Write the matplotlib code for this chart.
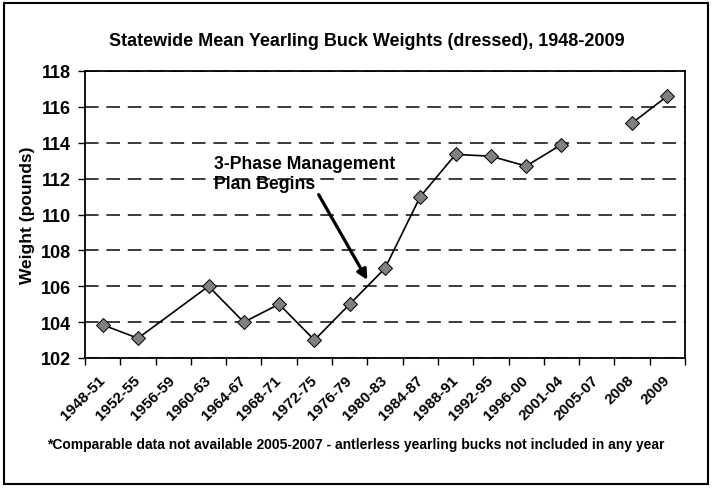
import matplotlib
matplotlib.use("Agg")
import matplotlib.pyplot as plt
from matplotlib.patches import Rectangle
import numpy as np

# category labels along the x axis
periods = ["1948-51", "1952-55", "1956-59", "1960-63", "1964-67", "1968-71",
           "1972-75", "1976-79", "1980-83", "1984-87", "1988-91", "1992-95",
           "1996-00", "2001-04", "2005-07", "2008", "2009"]
# mean dressed weight (lbs); None = no point plotted
weights = [103.85, 103.1, None, 106.0, 104.0, 105.0, 103.0, 105.0, 107.0,
           111.0, 113.35, 113.25, 112.7, 113.9, None, 115.1, 116.6]
# the 2005-07 gap is not bridged by the line
break_before = "2008"

plt.rcParams["font.family"] = ["Liberation Sans", "DejaVu Sans"]
plt.rcParams["font.weight"] = "bold"

W, H = 712, 489
fig = plt.figure(figsize=(W / 100, H / 100), dpi=100)
ax = fig.add_axes([85 / W, 1 - 359 / H, 600 / W, 287 / H])

x = np.arange(len(periods))
split = periods.index(break_before)
for lo, hi in [(0, split), (split, len(periods))]:
    xs = [i for i in range(lo, hi) if weights[i] is not None]
    ys = [weights[i] for i in xs]
    ax.plot(xs, ys, color="black", lw=1.2, marker="D", ms=6.8,
            mfc="#808080", mec="black", mew=0.7, zorder=3)

ax.set_xlim(-0.5, len(periods) - 0.5)
ax.set_ylim(102, 118)
ax.set_yticks(np.arange(102, 119, 2))
ax.yaxis.grid(True, color="#3c3c3c", lw=1.4, dashes=(7, 4))
ax.set_axisbelow(True)

ax.set_xticks(x)
ax.set_xticks(np.arange(-0.5, len(periods), 1), minor=True)
ax.set_xticklabels(periods, rotation=45, ha="right", va="center",
                   rotation_mode="anchor", fontsize=11, fontweight="bold")
ax.tick_params(axis="x", which="major", length=0, pad=14)
ax.tick_params(axis="x", which="minor", length=5, width=1, direction="out")
ax.tick_params(axis="y", length=5, width=1, direction="out", pad=5,
               labelsize=13)
for s in ax.spines.values():
    s.set_linewidth(1.3)

fig.text(28 / W, 1 - 215 / H, "Weight (pounds)", rotation=90, ha="center",
         va="center", fontsize=12.5, fontweight="bold")
fig.text(367 / W, 1 - 41 / H,
         "Statewide Mean Yearling Buck Weights (dressed), 1948-2009",
         ha="center", va="center", fontsize=13, fontweight="bold")
fig.text(356 / W, 1 - 445 / H,
         "*Comparable data not available 2005-2007 - antlerless yearling bucks "
         "not included in any year",
         ha="center", va="center", fontsize=10, fontweight="bold")

ax.annotate("3-Phase Management\nPlan Begins", xy=(7.5, 106.35),
            xytext=(3.15, 112.3), ha="left", va="center", fontsize=12.7,
            fontweight="bold", linespacing=1.25,
            arrowprops=dict(arrowstyle="-|>", lw=2.3, color="black",
                            mutation_scale=15, shrinkA=0, shrinkB=0,
                            relpos=(0.57, 0.0)))

fig.patches.append(Rectangle((4 / W, 4 / H), 704 / W, 481 / H,
                             transform=fig.transFigure, fill=False,
                             ec="black", lw=1.5))

fig.savefig("out.png", dpi=100)
